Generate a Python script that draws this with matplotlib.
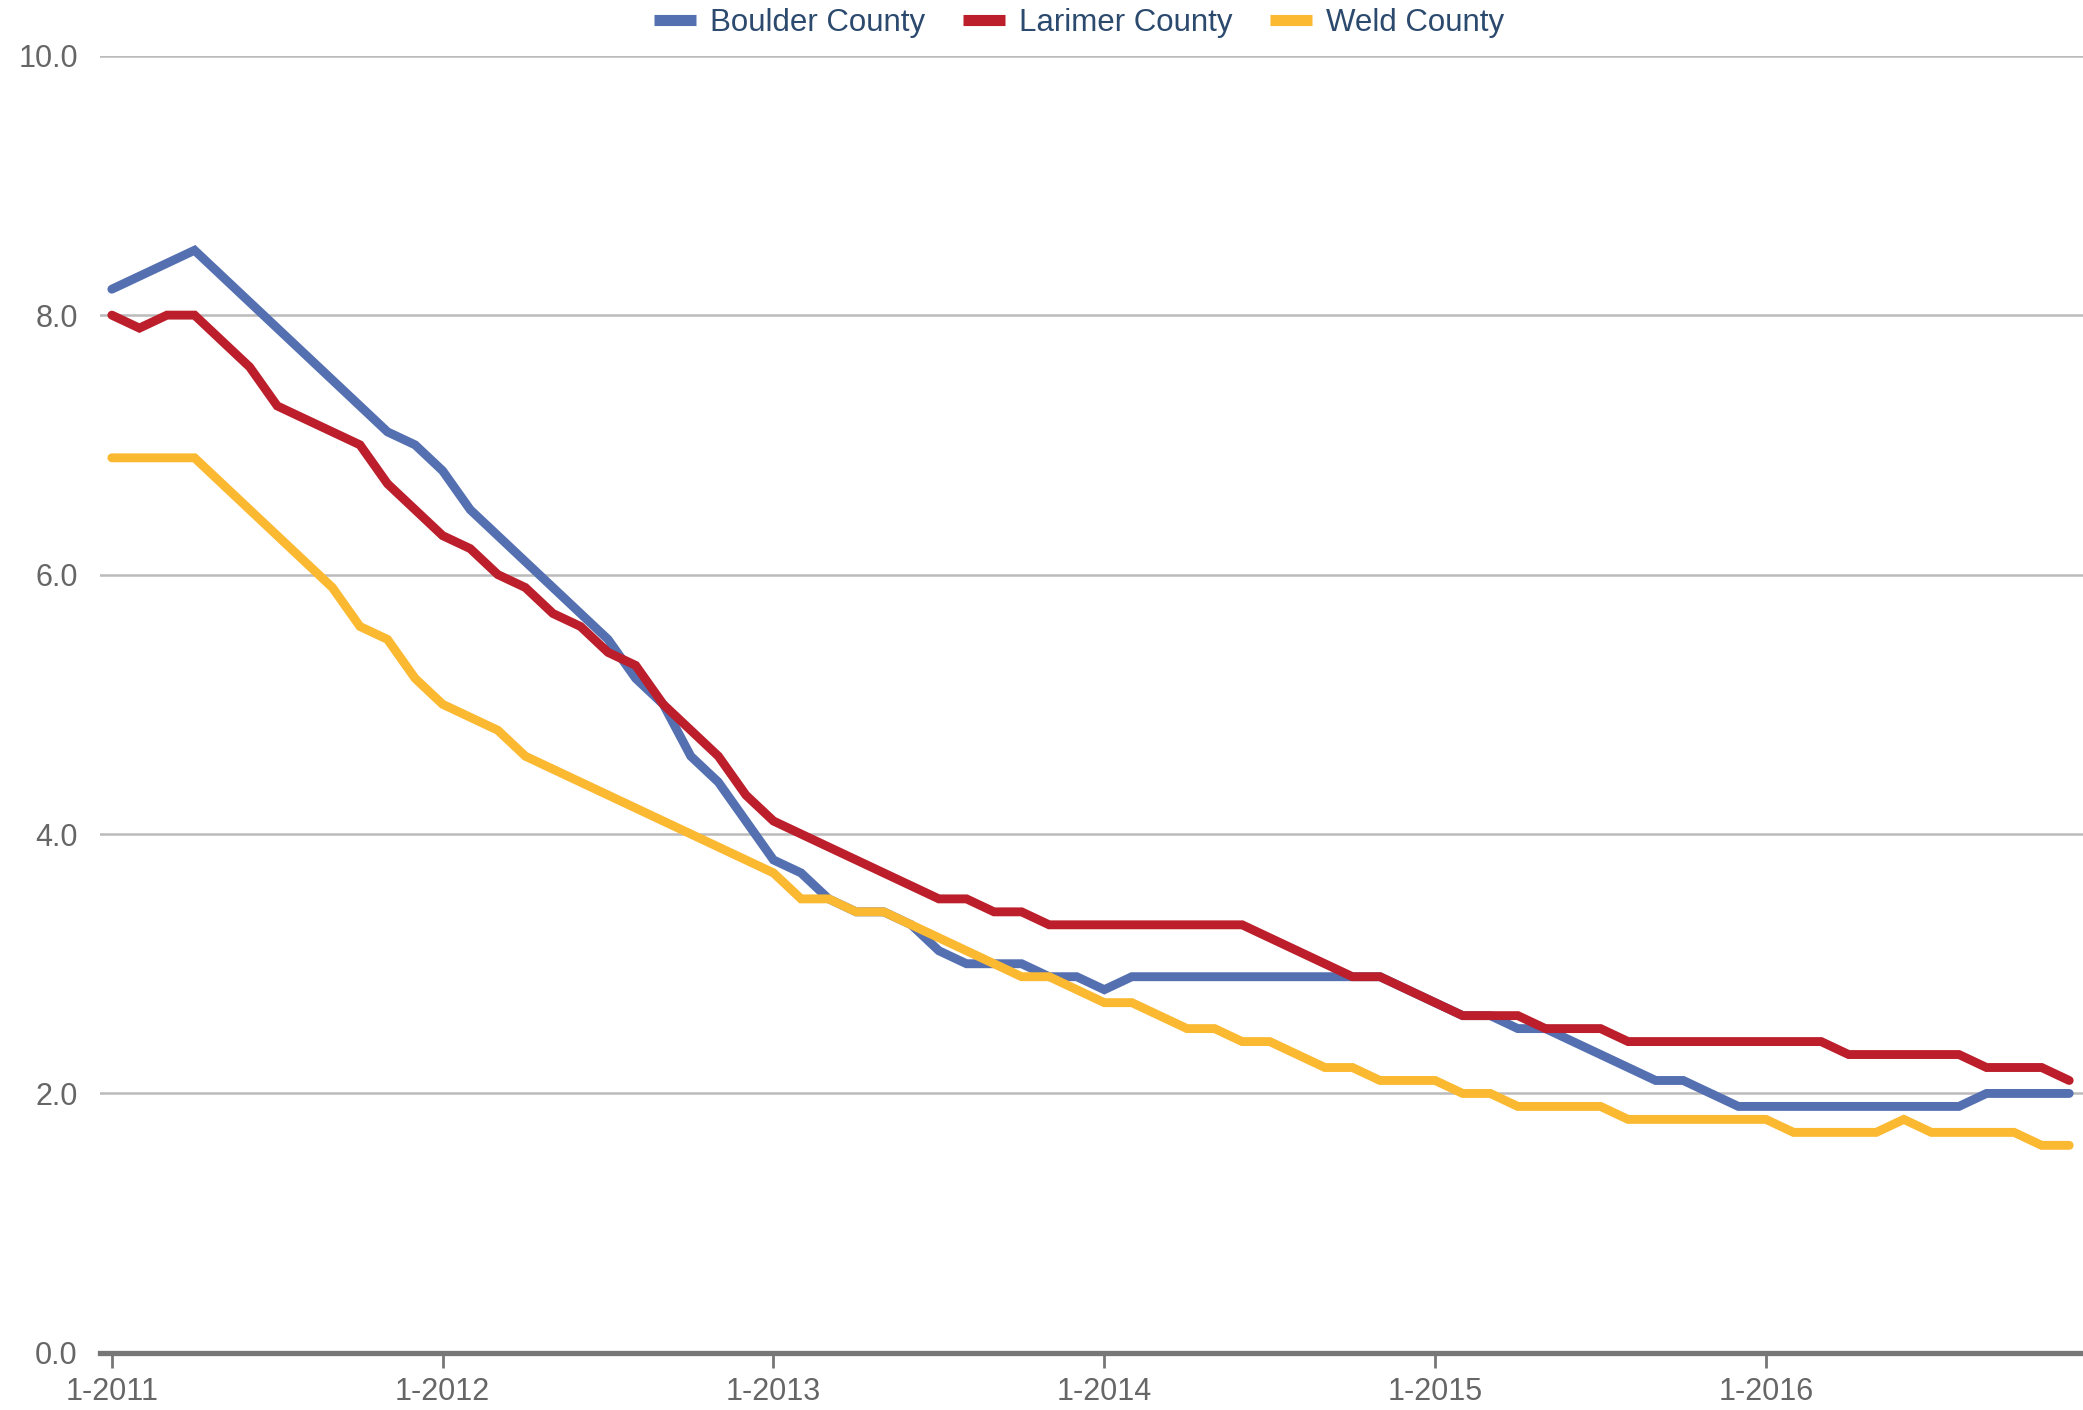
import matplotlib
matplotlib.use("Agg")
import matplotlib.pyplot as plt
from matplotlib.lines import Line2D

plt.rcParams['font.family'] = ['Liberation Sans', 'DejaVu Sans']

series_names = ["Boulder County", "Larimer County", "Weld County"]
colors = ["#5470b1", "#bc1f2b", "#fbb931"]

# Monthly values, Jan 2011 .. Dec 2016
boulder = [8.2, 8.3, 8.4, 8.5, 8.3, 8.1, 7.9, 7.7, 7.5, 7.3, 7.1, 7.0,
           6.8, 6.5, 6.3, 6.1, 5.9, 5.7, 5.5, 5.2, 5.0, 4.6, 4.4, 4.1,
           3.8, 3.7, 3.5, 3.4, 3.4, 3.3, 3.1, 3.0, 3.0, 3.0, 2.9, 2.9,
           2.8, 2.9, 2.9, 2.9, 2.9, 2.9, 2.9, 2.9, 2.9, 2.9, 2.9, 2.8,
           2.7, 2.6, 2.6, 2.5, 2.5, 2.4, 2.3, 2.2, 2.1, 2.1, 2.0, 1.9,
           1.9, 1.9, 1.9, 1.9, 1.9, 1.9, 1.9, 1.9, 2.0, 2.0, 2.0, 2.0]
larimer = [8.0, 7.9, 8.0, 8.0, 7.8, 7.6, 7.3, 7.2, 7.1, 7.0, 6.7, 6.5,
           6.3, 6.2, 6.0, 5.9, 5.7, 5.6, 5.4, 5.3, 5.0, 4.8, 4.6, 4.3,
           4.1, 4.0, 3.9, 3.8, 3.7, 3.6, 3.5, 3.5, 3.4, 3.4, 3.3, 3.3,
           3.3, 3.3, 3.3, 3.3, 3.3, 3.3, 3.2, 3.1, 3.0, 2.9, 2.9, 2.8,
           2.7, 2.6, 2.6, 2.6, 2.5, 2.5, 2.5, 2.4, 2.4, 2.4, 2.4, 2.4,
           2.4, 2.4, 2.4, 2.3, 2.3, 2.3, 2.3, 2.3, 2.2, 2.2, 2.2, 2.1]
weld = [6.9, 6.9, 6.9, 6.9, 6.7, 6.5, 6.3, 6.1, 5.9, 5.6, 5.5, 5.2,
        5.0, 4.9, 4.8, 4.6, 4.5, 4.4, 4.3, 4.2, 4.1, 4.0, 3.9, 3.8,
        3.7, 3.5, 3.5, 3.4, 3.4, 3.3, 3.2, 3.1, 3.0, 2.9, 2.9, 2.8,
        2.7, 2.7, 2.6, 2.5, 2.5, 2.4, 2.4, 2.3, 2.2, 2.2, 2.1, 2.1,
        2.1, 2.0, 2.0, 1.9, 1.9, 1.9, 1.9, 1.8, 1.8, 1.8, 1.8, 1.8,
        1.8, 1.7, 1.7, 1.7, 1.7, 1.8, 1.7, 1.7, 1.7, 1.7, 1.6, 1.6]

x_tick_labels = ["1-2011", "1-2012", "1-2013", "1-2014", "1-2015", "1-2016"]
y_ticks = [0.0, 2.0, 4.0, 6.0, 8.0, 10.0]

fig = plt.figure(figsize=(20.83, 14.10), dpi=100)
ax = fig.add_axes([0.048, 0.0405, 0.952, 0.920])

months = list(range(len(boulder)))
for vals, c in zip([boulder, larimer, weld], colors):
    ax.plot(months, vals, color=c, lw=6.4, solid_joinstyle='miter',
            solid_capstyle='round', zorder=3)

ax.set_xlim(-0.43, 71.5)
ax.set_ylim(0, 10)

ax.set_yticks(y_ticks)
ax.set_yticklabels([f"{v:.1f}" for v in y_ticks])
for v in y_ticks[1:]:
    ax.axhline(v, color="#bbbbbb", lw=1.8, zorder=1)
ax.axhline(0, color="#777777", lw=3.8, zorder=4, clip_on=False)

ax.set_xticks([12 * i for i in range(len(x_tick_labels))])
ax.set_xticklabels(x_tick_labels)

for s in ax.spines.values():
    s.set_visible(False)

ax.tick_params(axis='x', length=11, width=2, color="#777777",
               labelcolor="#666666", labelsize=22, pad=6)
ax.tick_params(axis='y', length=0, labelcolor="#666666", labelsize=22, pad=16)

handles = [Line2D([0], [0], color=c, lw=8, solid_capstyle='butt') for c in colors]
leg = fig.legend(handles, series_names, loc='center', bbox_to_anchor=(0.518, 0.984),
                 ncol=3, frameon=False, fontsize=22.5, handlelength=1.35,
                 handletextpad=0.45, columnspacing=1.2)
for t in leg.get_texts():
    t.set_color("#2c4a6e")

fig.savefig("out.png", dpi=100)
